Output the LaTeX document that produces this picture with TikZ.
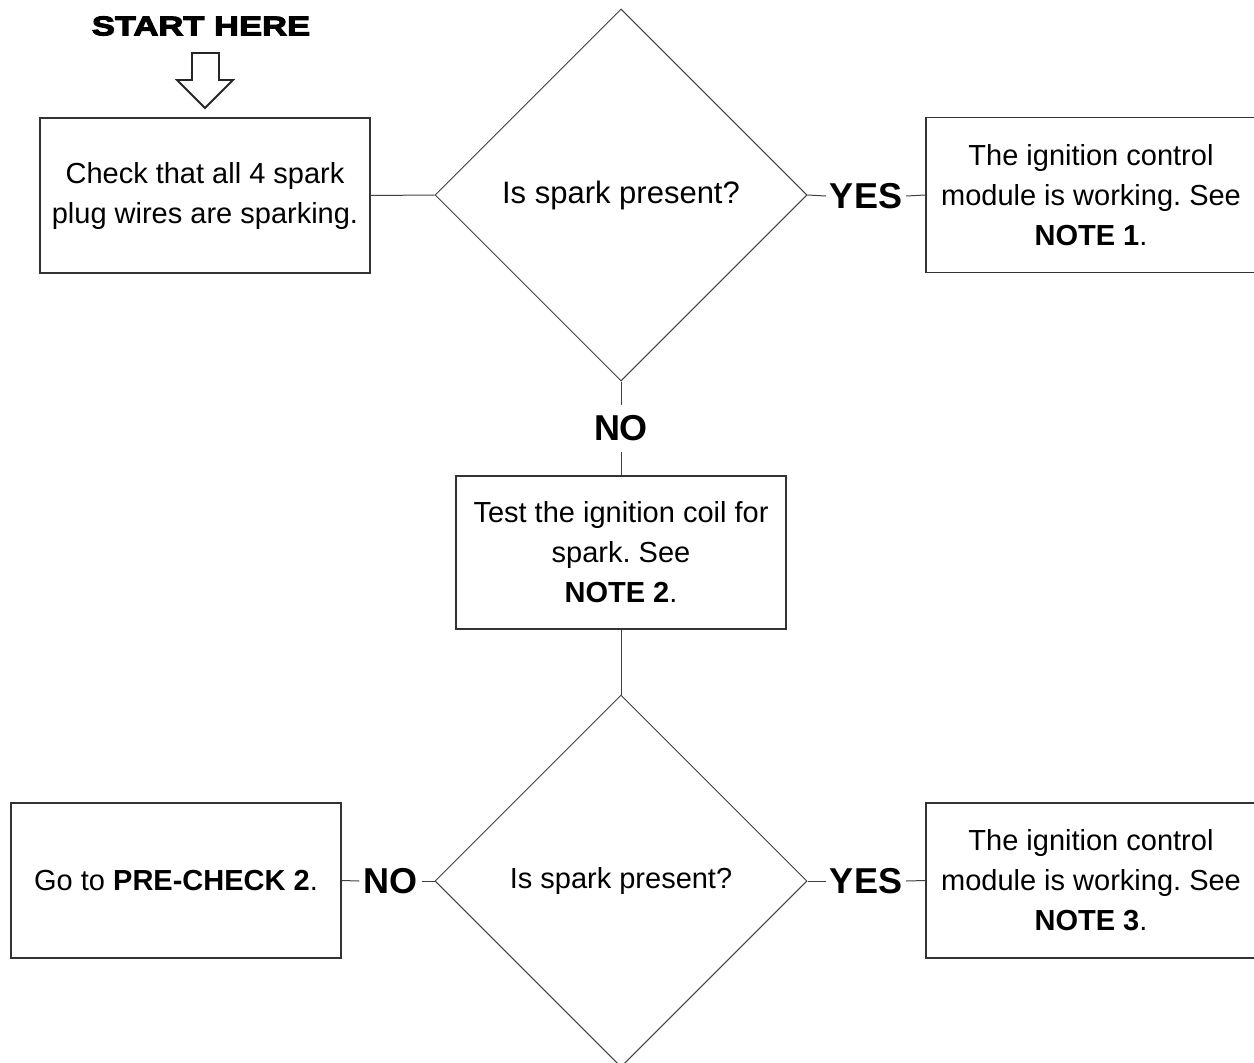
\documentclass[tikz,border=0pt]{standalone}
\usepackage{fontspec}
\setmainfont{Liberation Sans}
\newfontfamily\startfont[FakeStretch=1.28,FakeBold=4]{Liberation Sans}
\usetikzlibrary{shapes.geometric}
\frenchspacing

\begin{document}
\begin{tikzpicture}[x=1pt,y=-1pt,
  box node/.style={rectangle,draw=black!80,line width=1.2pt,align=center,minimum width=330pt,minimum height=155pt,inner sep=0pt,font=\fontsize{29}{40}\selectfont},
  test node/.style={diamond,draw=black!75,line width=1pt,minimum width=372pt,minimum height=372pt,inner sep=0pt},
  label node/.style={font=\fontsize{36}{40}\selectfont\bfseries,inner xsep=4pt,inner ysep=11pt}]

  \useasboundingbox (0,0) rectangle (1254,1063);

  \node (start) at (201,26) {\startfont\bfseries\fontsize{27}{30}\selectfont START HERE};
  \draw[line width=1.8pt,black!85] (192,53) -- (219,53) -- (219,80) -- (233,80) -- (205,108) -- (177,80) -- (192,80) -- cycle;

  \node[box node] (1) at (205,195.5) {Check that all 4 spark\\plug wires are sparking.};
  \node[test node,font=\fontsize{31}{38}\selectfont] (2) at (621,195) {Is spark present?};
  \node[label node] (3) at (866,196) {YES};
  \node[box node] (4) at (1091,195) {The ignition control\\module is working. See\\\textbf{NOTE 1}.};
  \node[label node] (5) at (621,428.5) {NO};
  \node[box node,minimum height=153pt] (6) at (621,552.5) {Test the ignition coil for\\spark. See\\\textbf{NOTE 2}.};
  \node[test node,font=\fontsize{29}{38}\selectfont] (7) at (621,881) {Is spark present?};
  \node[label node] (8) at (390.5,881) {NO};
  \node[box node] (9) at (176,880.5) {Go to \textbf{PRE-CHECK 2}.};
  \node[label node] (10) at (866,881) {YES};
  \node[box node] (11) at (1091,880.5) {The ignition control\\module is working. See\\\textbf{NOTE 3}.};

  \path[draw=black!75,line width=1pt]
    (1.east) edge (2.west)
    (2.east) edge (3.west)
    (3.east) edge (4.west)
    (2.south) edge (5.north)
    (5.south) edge (6.north)
    (6.south) edge (7.north)
    (9.east) edge (8.west)
    (8.east) edge (7.west)
    (7.east) edge (10.west)
    (10.east) edge (11.west);
\end{tikzpicture}
\end{document}
